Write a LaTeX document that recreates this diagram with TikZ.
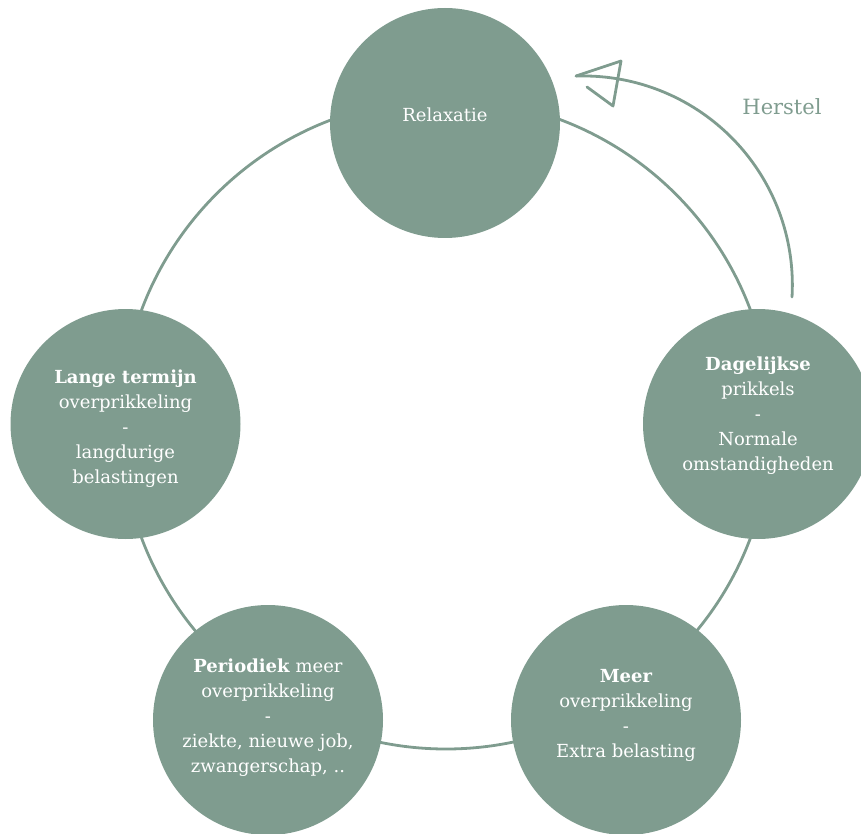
\documentclass[tikz,border=0pt]{standalone}
\usepackage{fontspec}
\setmainfont{DejaVu Serif}
\definecolor{sage}{RGB}{127,156,143}
\begin{document}
\begin{tikzpicture}[x=1pt,y=-1pt,
  bubble/.style={circle,fill=sage,minimum size=230pt,inner sep=0pt},
  bubbletext/.style={text=white,align=center,inner sep=0pt,font=\fontsize{18}{25}\selectfont},
  ring/.style={draw=sage,line width=2.8pt,line cap=round,line join=round},
]
\useasboundingbox (0,0) rectangle (861,834);

% the cycle ring, behind the stages
\draw[ring] (446,424) circle (325);

% stages
\node[bubble] (relax) at (445,123) {};
\node[bubble] (lang)  at (125.5,424) {};
\node[bubble] (dag)   at (758,424) {};
\node[bubble] (per)   at (268,720) {};
\node[bubble] (meer)  at (626,720) {};

\node[bubbletext] (relaxtxt) at ([yshift=8pt]relax.center) {Relaxatie};
\node[bubbletext] (langtxt) at ([yshift=-5pt]lang.center)
  {\textbf{Lange termijn}\\overprikkeling\\-\\langdurige\\belastingen};
\node[bubbletext] (dagtxt) at ([yshift=8pt]dag.center)
  {\textbf{Dagelijkse}\\prikkels\\-\\Normale\\omstandigheden};
\node[bubbletext] (pertxt) at ([yshift=2pt]per.center)
  {\textbf{Periodiek} meer\\overprikkeling\\-\\ziekte, nieuwe job,\\zwangerschap, ..};
\node[bubbletext] (meertxt) at ([yshift=5pt]meer.center)
  {\textbf{Meer}\\overprikkeling\\-\\Extra belasting};

% recovery arrow
\coordinate (hstart) at (792,297);
\coordinate (htip) at (576,76);
\coordinate (hwing) at (621,61);
\coordinate (hback) at (613,106);
\coordinate (hend) at (587,87);
\draw[ring] (hstart) arc[start angle=3.3,end angle=-92,radius=209];
\draw[ring] (hend) -- (hback) -- (hwing) -- (htip);
\node[text=sage,font=\fontsize{21}{26}\selectfont] (herstel) at (782,107) {Herstel};
\end{tikzpicture}
\end{document}
